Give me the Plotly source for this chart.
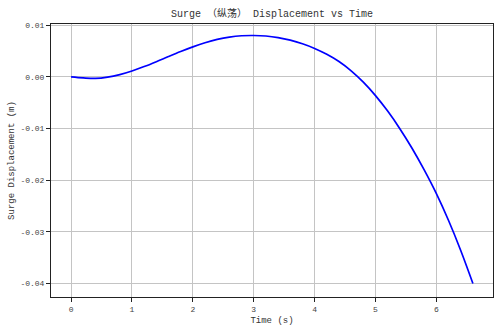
import plotly.graph_objects as go

time_s = [0.0, 0.2, 0.4, 0.6, 0.8, 1.0, 1.2, 1.4, 1.6, 1.8, 2.0, 2.2, 2.4, 2.6, 2.8,
          3.0, 3.2, 3.4, 3.6, 3.8, 4.0, 4.2, 4.4, 4.6, 4.8, 5.0, 5.2, 5.4, 5.6, 5.8,
          6.0, 6.2, 6.4, 6.6]
surge_m = [0.0, -0.0002, -0.0003, -0.00005, 0.00045, 0.00115, 0.0020, 0.00295, 0.00395,
           0.00492, 0.00582, 0.00662, 0.00727, 0.00772, 0.00797, 0.00802, 0.00792, 0.00762,
           0.00712, 0.00642, 0.00552, 0.00437, 0.00297, 0.00117, -0.00103, -0.00363,
           -0.00663, -0.01003, -0.01383, -0.01803, -0.02263, -0.02783, -0.03363, -0.04003]
x_ticks = [0, 1, 2, 3, 4, 5, 6]
y_ticks = [0.01, 0.0, -0.01, -0.02, -0.03, -0.04]
y_tick_text = ["0.01", "0.00", "-0.01", "-0.02", "-0.03", "-0.04"]

FONT = "Liberation Mono, Noto Sans CJK SC, monospace"

fig = go.Figure()
fig.add_trace(go.Scatter(x=time_s, y=surge_m, mode="lines", line_shape="spline",
                         line=dict(color="#0000ff", width=1.7), showlegend=False))

axis_common = dict(showline=True, linecolor="#222222", linewidth=1, mirror=True,
                   showgrid=True, gridcolor="#c4c4c4", gridwidth=1,
                   ticks="outside", ticklen=4, tickcolor="#222222",
                   zeroline=False, tickfont=dict(family=FONT, size=8, color="#444444"))

fig.update_layout(
    width=499, height=331,
    margin=dict(l=51, r=6, t=24, b=34),
    paper_bgcolor="white", plot_bgcolor="white",
    font=dict(family=FONT, color="#333333"),
    title=dict(text="Surge （纵荡） Displacement vs Time", x=0.545, xanchor="center",
               y=0.96, yanchor="middle", font=dict(family=FONT, size=10, color="#333333")),
    xaxis=dict(range=[-0.33, 6.93], tickvals=x_ticks, ticktext=[str(v) for v in x_ticks],
               title=dict(text="Time (s)", font=dict(family=FONT, size=9), standoff=4),
               **axis_common),
    yaxis=dict(range=[-0.04265, 0.01025], tickvals=y_ticks, ticktext=y_tick_text,
               title=dict(text="Surge Displacement (m)", font=dict(family=FONT, size=9), standoff=4),
               **axis_common),
)

fig.write_html("out.html")
